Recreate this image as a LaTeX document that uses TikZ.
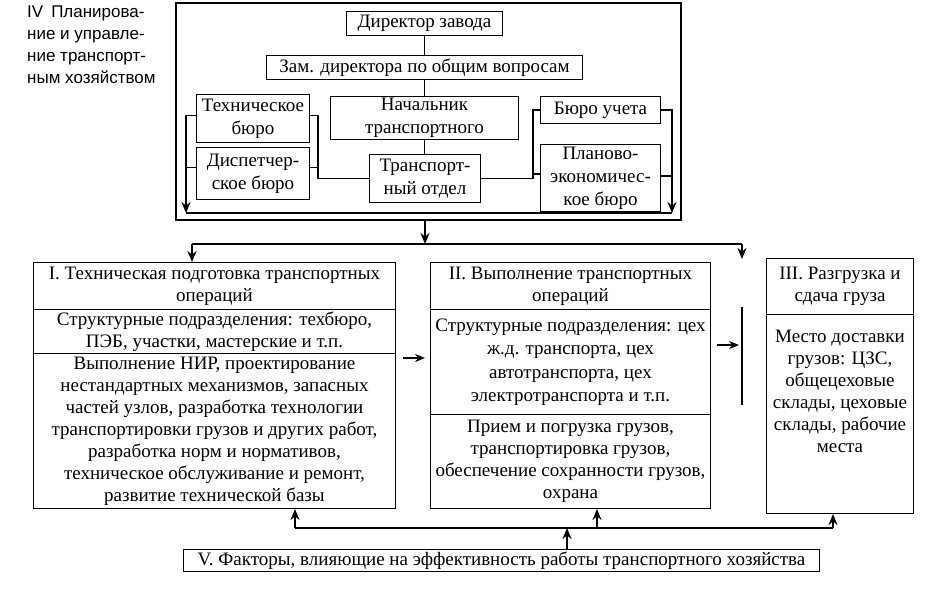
\documentclass[tikz,border=0pt]{standalone}
\usepackage{fontspec}
\setmainfont{Liberation Serif}
\newfontfamily\sansf{Liberation Sans}
\usetikzlibrary{arrows.meta}
\begin{document}
\begin{tikzpicture}[x=1pt,y=-1pt,
  box/.style={draw, line width=1pt, inner sep=0pt, align=center, anchor=north west, font=\fontsize{19}{22}\selectfont},
  ln/.style={line width=1.6pt},
  arr/.style={line width=1.6pt, -{Stealth[length=11pt,width=9pt]}},
  arrs/.style={line width=1.3pt, -{Stealth[length=10pt,width=8pt]}},
]
\useasboundingbox (0,0) rectangle (935,594);
\fill[white] (0,0) rectangle (935,594);

% title
\node[anchor=north west, inner sep=0pt, align=left, font=\sansf\fontsize{17}{22}\selectfont] (title) at (27,6)
  {IV\hspace{8pt}Планирова-\\ние и управле-\\ние транспорт-\\ным хозяйством};

% frame
\node[draw, line width=2.2pt, inner sep=0pt, anchor=north west, minimum width=505, minimum height=217] (frame) at (175,2) {};

% top boxes
\node[box, minimum width=156, minimum height=24] (dir) at (346,11) {Директор завода};
\node[box, minimum width=316, minimum height=24] (zam) at (266,55) {Зам. директора по общим вопросам};
\node[box, minimum width=188, minimum height=43, font=\fontsize{19}{23}\selectfont] (nach) at (330,96) {Начальник\\транспортного};
\node[box, minimum width=113, minimum height=48, font=\fontsize{19}{23}\selectfont] (tech) at (196,94) {Техническое\\бюро};
\node[box, minimum width=113, minimum height=52, font=\fontsize{19}{23}\selectfont] (disp) at (196,147) {Диспетчер-\\ское бюро};
\node[box, minimum width=111, minimum height=48, font=\fontsize{19}{23}\selectfont] (tr) at (369,154) {Транспорт-\\ный отдел};
\node[box, minimum width=120, minimum height=27] (buch) at (540,96) {Бюро учета};
\node[box, minimum width=120, minimum height=67, font=\fontsize{19}{23}\selectfont] (plan) at (540,144) {Планово-\\экономичес-\\кое бюро};

\coordinate (L) at (186,213);
\coordinate (R) at (672,213);
\coordinate (mid) at (318,0);
\coordinate (midr) at (533,0);

\draw[ln] (dir.south) -- (zam.north);
\draw[ln] (zam.south) -- (zam.south |- nach.north);
\draw[ln] (nach.south) -- (nach.south |- tr.north);
\draw[arr] ([yshift=3pt]tech.west) -| (L);
\draw[ln] ([yshift=6pt]disp.west) -- ([yshift=6pt]disp.west -| L);
\draw[ln] ([yshift=3pt]tech.east) -| (mid |- tr.west) -- (tr.west);
\draw[ln] ([yshift=6pt]disp.east) -- ([yshift=6pt]disp.east -| mid);
\draw[ln] (tr.east) -| (midr |- buch.west) -- (buch.west);
\draw[ln] ([yshift=4pt]plan.west) -- ([yshift=4pt]plan.west -| midr);
\draw[arr] (buch.east) -| (R);
\draw[ln] ([yshift=2pt]plan.east) -- ([yshift=2pt]plan.east -| R);
\draw[ln] (L) -- (R);

% lower boxes
\node[box, minimum width=362, minimum height=47] (h1) at (33,262) {I. Техническая подготовка транспортных\\операций};
\node[box, minimum width=362, minimum height=44] (s1) at (33,309) {Структурные подразделения: техбюро,\\ПЭБ, участки, мастерские и т.п.};
\node[box, minimum width=362, minimum height=155] (d1) at (33,353) {Выполнение НИР, проектирование\\нестандартных механизмов, запасных\\частей узлов, разработка технологии\\транспортировки грузов и других работ,\\разработка норм и нормативов,\\техническое обслуживание и ремонт,\\развитие технической базы};

\node[box, minimum width=280, minimum height=47] (h2) at (430,262) {II. Выполнение транспортных\\операций};
\node[box, minimum width=280, minimum height=105, font=\fontsize{19}{23.5}\selectfont] (s2) at (430,309) {Структурные подразделения: цех\\ж.д. транспорта, цех\\автотранспорта, цех\\электротранспорта и т.п.};
\node[box, minimum width=280, minimum height=94] (d2) at (430,414) {Прием и погрузка грузов,\\транспортировка грузов,\\обеспечение сохранности грузов,\\охрана};

\node[box, minimum width=147, minimum height=56] (h3) at (766,258) {III. Разгрузка и\\сдача груза};
\node[box, minimum width=147, minimum height=199] (d3) at (766,314) {};
\node[anchor=north, inner sep=0pt, align=center, font=\fontsize{19}{22}\selectfont] (d3t) at ([yshift=-16pt]d3.north) {Место доставки\\грузов: ЦЗС,\\общецеховые\\склады, цеховые\\склады, рабочие\\места};

\node[box, minimum width=636, minimum height=22] (v) at (183,549) {V. Факторы, влияющие на эффективность работы транспортного хозяйства};

% lower connectors
\coordinate (a1) at (192,244);
\coordinate (a3) at (742,244);
\coordinate (e3) at (742,259);
\draw[arr] (tr.south |- frame.south) -- (tr.south |- a1);
\draw[ln] (a1) -- (a3);
\draw[arr] (a1) -- (a1 |- h1.north);
\draw[arr] (a3) -- (e3);

\coordinate (bt) at (742,307);
\coordinate (bb) at (742,405);
\draw[line width=1.3pt] (bt) -- (bb);

\coordinate (p1) at (403,358);
\coordinate (p2) at (425,358);
\draw[arrs] (p1) -- (p2);
\coordinate (q1) at (717,345);
\coordinate (q2) at (739,345);
\draw[arrs] (q1) -- (q2);

\coordinate (b1) at (295,528);
\coordinate (b2) at (597,528);
\coordinate (b3) at (833,528);
\draw[ln] (b1) -- (b3);
\draw[arr] (b1) -- (b1 |- d1.south);
\draw[arr] (b2) -- (b2 |- d2.south);
\draw[arr] (b3) -- (b3 |- d3.south);
\draw[arr] (v.north -| 567,0) -- (567,528);
\end{tikzpicture}
\end{document}
